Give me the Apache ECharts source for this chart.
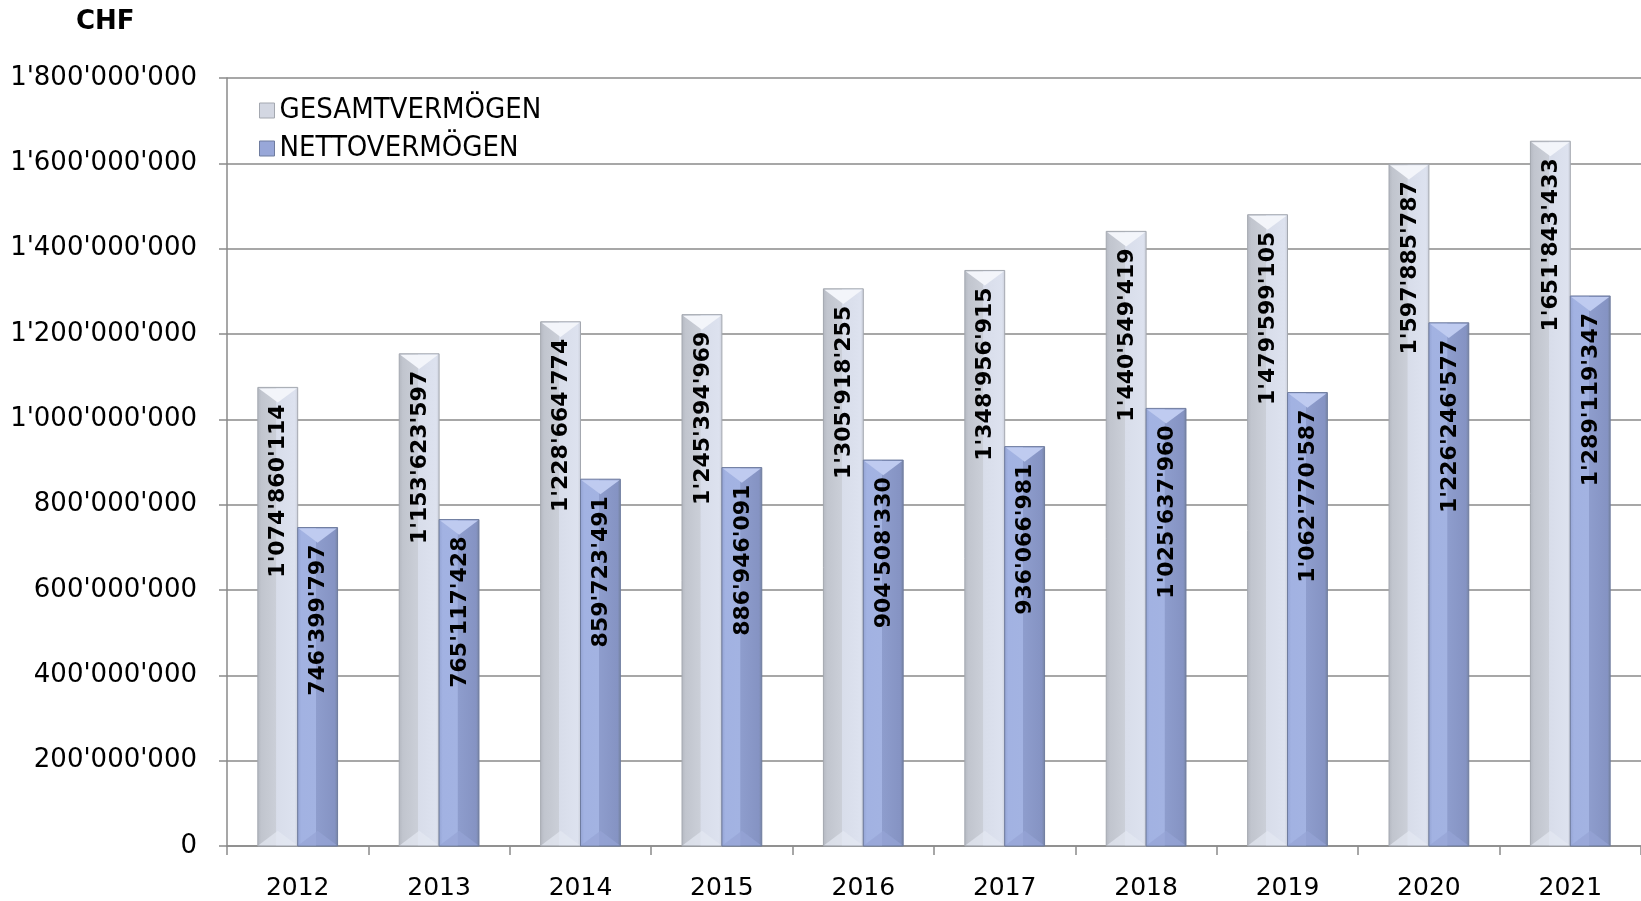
<!DOCTYPE html>
<html>
<head>
<meta charset="utf-8">
<script src="https://cdn.jsdelivr.net/npm/echarts@6/dist/echarts.min.js"></script>
<style>
  html, body { margin: 0; padding: 0; background: #ffffff; }
  #chart { width: 1641px; height: 901px; }
</style>
</head>
<body>
<div id="chart"></div>
<script>
const years = ["2012", "2013", "2014", "2015", "2016", "2017", "2018", "2019", "2020", "2021"];
const gesamt = [1074860114, 1153623597, 1228664774, 1245394969, 1305918255, 1348956915, 1440549419, 1479599105, 1597885787, 1651843433];
const netto = [746399797, 765117428, 859723491, 886946091, 904508330, 936066981, 1025637960, 1062770587, 1226246577, 1289119347];
const seriesNames = ["GESAMTVERMÖGEN", "NETTOVERMÖGEN"];

const fmt = (v) => String(v).replace(/\B(?=(\d{3})+(?!\d))/g, "'");

const palettes = [
  {
    body: [[0, "#b3b7c0"], [0.1, "#c1c5ce"], [0.46, "#cbcfd8"], [0.47, "#d8ddea"], [0.92, "#dde2ef"], [1, "#c9cdd8"]],
    top: "#f3f5fa",
    bottom: "#e4e8f2",
    stroke: "#a4a8b0",
  },
  {
    body: [[0, "#93a3d3"], [0.1, "#a2b2e2"], [0.46, "#a3b3e2"], [0.47, "#8e9dcd"], [0.92, "#8593c3"], [1, "#75839f"]],
    top: "#bfcbf0",
    bottom: "#95a4d6",
    stroke: "#6f7c9f",
  },
];

function bevelBar(side, values) {
  const pal = palettes[side];
  return (params, api) => {
    const idx = api.value(0);
    const val = api.value(1);
    const band = api.size([1, 0])[0];
    const w = band * 0.282;
    const center = api.coord([idx, val]);
    const base = api.coord([idx, 0]);
    const x0 = side === 0 ? center[0] - w : center[0];
    const x1 = x0 + w;
    const xc = (x0 + x1) / 2;
    const yt = center[1];
    const yb = base[1];
    const cap = w * 0.38;
    return {
      type: "group",
      children: [
        {
          type: "rect",
          shape: { x: x0, y: yt, width: w, height: yb - yt },
          style: {
            fill: new echarts.graphic.LinearGradient(0, 0, 1, 0, pal.body.map(([o, c]) => ({ offset: o, color: c }))),
            stroke: pal.stroke,
            lineWidth: 1,
          },
        },
        {
          type: "polygon",
          shape: { points: [[x0 + 1, yt + 1], [x1 - 1, yt + 1], [xc, yt + cap]] },
          style: { fill: pal.top },
        },
        {
          type: "polygon",
          shape: { points: [[x0 + 1, yb - 1], [x1 - 1, yb - 1], [xc, yb - cap]] },
          style: { fill: pal.bottom, opacity: 0.7 },
        },
        {
          type: "text",
          x: xc + 1,
          y: yt + 17,
          rotation: Math.PI / 2,
          style: {
            text: fmt(values[idx]),
            align: "right",
            verticalAlign: "middle",
            font: 'bold 22px "DejaVu Sans"',
            fill: "#000000",
          },
        },
      ],
    };
  };
}

const chart = echarts.init(document.getElementById("chart"), null, { renderer: "canvas" });
chart.setOption({
  animation: false,
  backgroundColor: "#ffffff",
  graphic: [{
    type: "text",
    left: 76,
    top: 9,
    style: { text: "CHF", font: 'bold 26px "DejaVu Sans"', fill: "#000000" },
  }],
  legend: {
    orient: "vertical",
    left: 254,
    top: 90,
    itemWidth: 15,
    itemHeight: 15,
    itemGap: 7,
    textStyle: { fontFamily: '"DejaVu Sans Condensed", "DejaVu Sans"', fontSize: 29, color: "#000000", lineHeight: 31 },
    data: [
      { name: seriesNames[0], icon: "rect", itemStyle: { color: "#d3d7e2", borderColor: "#a4a8b0", borderWidth: 1 } },
      { name: seriesNames[1], icon: "rect", itemStyle: { color: "#98a7d8", borderColor: "#6f7c9f", borderWidth: 1 } },
    ],
  },
  grid: { left: 227, right: 0, top: 78, bottom: 48 },
  xAxis: {
    type: "category",
    data: years,
    axisLine: { lineStyle: { color: "#8a8a8a", width: 1.5 } },
    axisTick: { show: true, length: 9, lineStyle: { color: "#8a8a8a", width: 1.5 } },
    axisLabel: { color: "#000000", fontFamily: '"DejaVu Sans"', fontSize: 25, margin: 30 },
  },
  yAxis: {
    type: "value",
    min: 0,
    max: 1800000000,
    interval: 200000000,
    axisLine: { show: true, lineStyle: { color: "#8a8a8a", width: 1.5 } },
    axisTick: { show: true, length: 8, lineStyle: { color: "#8a8a8a", width: 1.5 } },
    axisLabel: { color: "#000000", fontFamily: '"DejaVu Sans"', fontSize: 26, margin: 30, formatter: fmt },
    splitLine: { lineStyle: { color: "#8a8a8a", width: 1.5 } },
  },
  series: [
    {
      name: seriesNames[0],
      type: "custom",
      itemStyle: { color: "#d3d7e2" },
      encode: { x: 0, y: 1 },
      data: gesamt.map((v, i) => [i, v]),
      renderItem: bevelBar(0, gesamt),
      z: 3,
    },
    {
      name: seriesNames[1],
      type: "custom",
      itemStyle: { color: "#98a7d8" },
      encode: { x: 0, y: 1 },
      data: netto.map((v, i) => [i, v]),
      renderItem: bevelBar(1, netto),
      z: 3,
    },
  ],
});
</script>
</body>
</html>
